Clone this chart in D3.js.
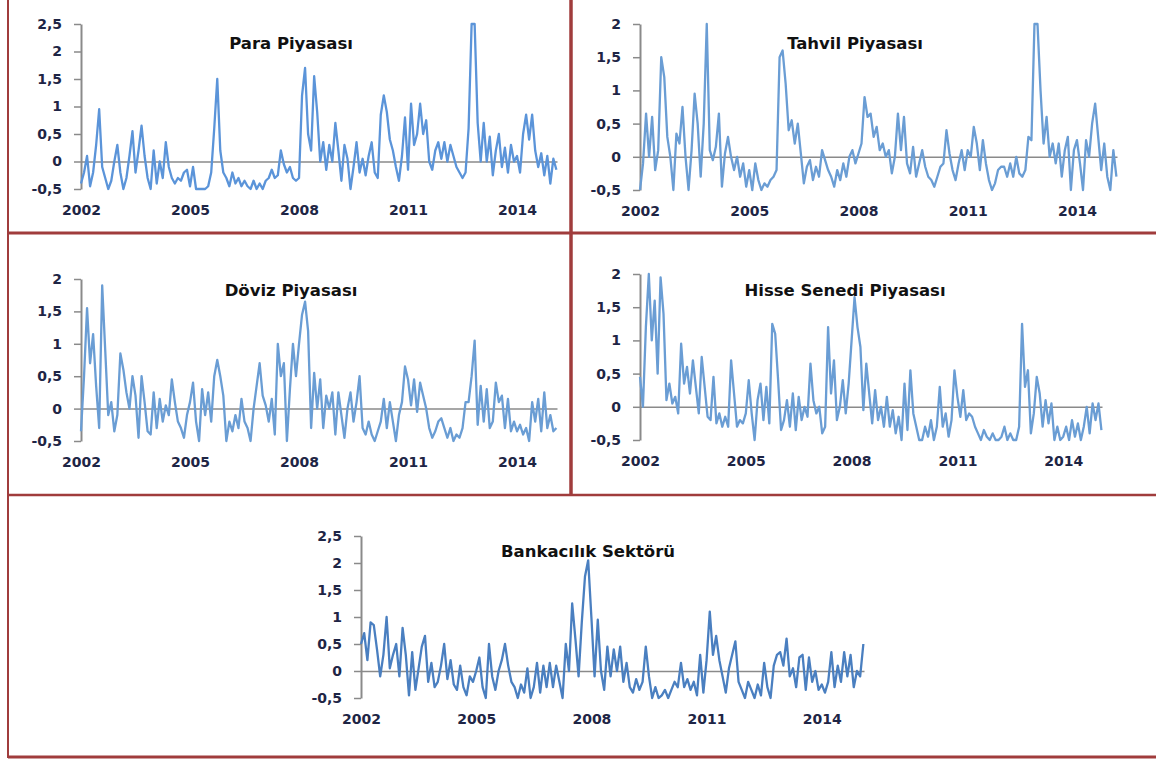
<!DOCTYPE html>
<html>
<head>
<meta charset="utf-8">
<script src="https://cdn.jsdelivr.net/npm/d3@7"></script>
<style>
  body { margin: 0; background: #fff; }
  svg text { font-family: "DejaVu Sans", Verdana, sans-serif; font-weight: bold; }
</style>
</head>
<body>
<div id="chart"></div>
<script>
var width = 1156;
var height = 760;

// monthly readings, Jan 2002 .. Feb 2015
var startYear = 2002;
var yearTicks = [2002, 2005, 2008, 2011, 2014];
var yTicksA = [-0.5, 0, 0.5, 1, 1.5, 2, 2.5];
var yTicksB = [-0.5, 0, 0.5, 1, 1.5, 2];
var titles = ["Para Piyasası", "Tahvil Piyasası", "Döviz Piyasası", "Hisse Senedi Piyasası", "Bankacılık Sektörü"];

var para = [
  -0.4, -0.2, 0.1, -0.45, -0.2, 0.3, 0.95, -0.1, -0.3, -0.5, -0.35, 0.0,
  0.3, -0.2, -0.5, -0.3, 0.1, 0.55, -0.2, 0.2, 0.65, 0.1, -0.3, -0.5,
  0.2, -0.4, 0.0, -0.3, 0.35, -0.1, -0.3, -0.4, -0.3, -0.35, -0.2, -0.15,
  -0.45, -0.1, -0.5, -0.5, -0.5, -0.5, -0.45, -0.2, 0.6, 1.5, 0.2, -0.2,
  -0.3, -0.45, -0.2, -0.4, -0.3, -0.45, -0.35, -0.45, -0.5, -0.35, -0.5, -0.4,
  -0.5, -0.35, -0.3, -0.15, -0.3, -0.25, 0.2, -0.05, -0.2, -0.1, -0.3, -0.35,
  -0.3, 1.2, 1.7, 0.5, 0.2, 1.55, 0.9, 0.0, 0.35, -0.15, 0.3, 0.0,
  0.7, 0.2, -0.35, 0.3, 0.05, -0.5, -0.1, 0.35, -0.2, 0.05, -0.25, 0.1,
  0.35, -0.2, -0.3, 0.85, 1.2, 0.9, 0.4, 0.2, -0.1, -0.35, 0.1, 0.8,
  -0.15, 1.05, 0.3, 0.5, 1.05, 0.5, 0.75, 0.0, -0.15, 0.2, 0.35, 0.05,
  0.35, 0.0, 0.3, 0.1, -0.1, -0.2, -0.3, -0.2, 0.6, 2.5, 2.5, 0.7,
  0.0, 0.7, 0.0, 0.45, -0.25, 0.2, 0.5, -0.1, 0.25, -0.2, 0.3, 0.0,
  0.1, -0.2, 0.5, 0.85, 0.4, 0.85, 0.2, -0.1, 0.15, -0.25, 0.1, -0.4,
  0.05, -0.15
];

var tahvil = [
  -0.5, -0.1, 0.65, 0.0, 0.6, -0.2, 0.1, 1.5, 1.2, 0.3, 0.0, -0.5,
  0.35, 0.2, 0.75, 0.0, -0.5, 0.1, 0.95, 0.5, -0.3, 0.5, 2.0, 0.1,
  -0.05, 0.15, 0.65, -0.45, 0.05, 0.3, 0.0, -0.2, 0.0, -0.3, -0.1, -0.45,
  -0.2, -0.5, -0.1, -0.35, -0.5, -0.4, -0.45, -0.35, -0.3, -0.2, 1.5, 1.6,
  1.1, 0.4, 0.55, 0.2, 0.5, 0.05, -0.4, -0.15, -0.05, -0.35, -0.15, -0.3,
  0.1, -0.05, -0.2, -0.3, -0.45, -0.2, -0.35, -0.1, -0.3, 0.0, 0.1, -0.1,
  0.05, 0.2, 0.9, 0.6, 0.65, 0.3, 0.45, 0.1, 0.2, 0.0, 0.1, -0.25,
  0.0, 0.65, 0.1, 0.6, -0.1, -0.25, 0.15, -0.3, -0.1, 0.1, -0.15, -0.3,
  -0.35, -0.45, -0.3, -0.15, -0.1, 0.4, 0.05, -0.2, -0.35, -0.1, 0.1, -0.2,
  0.1, 0.0, 0.45, 0.2, -0.2, 0.25, -0.1, -0.35, -0.5, -0.4, -0.2, -0.15,
  -0.15, -0.3, -0.1, -0.3, 0.0, -0.25, -0.3, -0.2, 0.3, 0.25, 2.0, 2.0,
  1.0, 0.2, 0.6, 0.0, 0.2, -0.1, 0.2, -0.3, 0.1, 0.3, -0.5, 0.1,
  0.25, -0.1, -0.5, 0.25, 0.0, 0.5, 0.8, 0.3, -0.2, 0.2, -0.3, -0.5,
  0.1, -0.3
];

var doviz = [
  -0.35, 0.5, 1.55, 0.7, 1.15, 0.35, -0.3, 1.9, 0.9, -0.1, 0.1, -0.35,
  -0.1, 0.85, 0.6, 0.25, 0.0, 0.5, 0.2, -0.45, 0.5, 0.1, -0.35, -0.4,
  0.25, -0.3, 0.15, -0.2, 0.05, -0.1, 0.45, 0.1, -0.2, -0.3, -0.45, -0.1,
  0.1, 0.4, -0.2, -0.5, 0.3, -0.1, 0.25, -0.2, 0.5, 0.75, 0.5, 0.2,
  -0.5, -0.2, -0.35, -0.1, -0.3, 0.15, -0.2, -0.3, -0.5, 0.0, 0.35, 0.7,
  0.2, 0.05, -0.2, 0.15, -0.4, 1.0, 0.5, 0.7, -0.5, 0.3, 1.0, 0.5,
  1.0, 1.45, 1.65, 1.2, -0.3, 0.55, 0.0, 0.45, -0.3, 0.2, 0.0, 0.25,
  -0.4, 0.25, -0.1, -0.45, 0.0, 0.25, -0.2, 0.1, 0.5, -0.3, -0.4, -0.2,
  -0.4, -0.5, -0.35, -0.2, 0.15, -0.3, 0.1, -0.2, -0.5, -0.1, 0.1, 0.65,
  0.45, 0.05, 0.45, -0.05, 0.4, 0.2, 0.0, -0.3, -0.45, -0.35, -0.2, -0.15,
  -0.3, -0.45, -0.3, -0.5, -0.4, -0.45, -0.3, 0.1, 0.1, 0.5, 1.05, -0.25,
  0.35, -0.2, 0.3, -0.3, -0.2, 0.4, 0.1, 0.2, -0.3, 0.15, -0.35, -0.2,
  -0.35, -0.25, -0.4, -0.3, -0.5, 0.1, -0.2, 0.15, -0.35, 0.25, -0.3, -0.1,
  -0.35, -0.3
];

var hisse = [
  0.45, 0.0, 1.2, 2.0, 1.0, 1.6, 0.5, 1.95, 1.4, 0.1, 0.35, 0.05,
  0.15, -0.1, 0.95, 0.35, 0.6, 0.2, 0.7, 0.3, -0.1, 0.75, 0.3, -0.15,
  -0.2, 0.45, -0.25, -0.1, -0.3, -0.15, -0.3, 0.7, 0.2, -0.3, -0.2, -0.25,
  -0.1, 0.4, -0.1, -0.5, 0.1, 0.35, -0.2, 0.3, -0.25, 1.25, 1.1, 0.4,
  -0.35, -0.2, 0.1, -0.3, 0.2, -0.35, 0.15, -0.2, 0.0, -0.15, 0.65, 0.1,
  -0.1, 0.0, -0.4, -0.3, 1.2, 0.2, 0.7, -0.2, 0.0, 0.4, -0.1, 0.35,
  1.0, 1.65, 1.2, 0.9, -0.05, 0.65, 0.2, -0.25, 0.25, -0.2, 0.0, -0.3,
  0.15, -0.3, -0.05, -0.4, -0.15, -0.5, 0.35, -0.35, 0.55, -0.1, -0.3, -0.5,
  -0.5, -0.3, -0.45, -0.2, -0.5, -0.3, 0.3, -0.3, -0.1, -0.45, -0.2, 0.55,
  0.15, -0.15, 0.25, -0.2, -0.1, -0.15, -0.3, -0.4, -0.5, -0.35, -0.45, -0.5,
  -0.4, -0.5, -0.5, -0.45, -0.3, -0.5, -0.4, -0.5, -0.5, -0.3, 1.25, 0.3,
  0.55, -0.4, -0.1, 0.45, 0.2, -0.3, 0.1, -0.25, 0.05, -0.5, -0.3, -0.5,
  -0.45, -0.3, -0.5, -0.2, -0.45, -0.25, -0.5, -0.3, 0.0, -0.4, 0.05, -0.2,
  0.05, -0.35
];

var banka = [
  0.5, 0.7, 0.2, 0.9, 0.85, 0.4, -0.1, 0.3, 1.0, 0.05, 0.3, 0.5,
  -0.1, 0.8, 0.3, -0.45, 0.35, -0.35, 0.05, 0.45, 0.65, -0.2, 0.15, -0.3,
  -0.2, 0.1, 0.5, -0.15, 0.2, -0.25, -0.35, 0.1, -0.3, -0.45, -0.1, -0.2,
  0.0, 0.25, -0.3, -0.5, 0.5, -0.1, -0.35, 0.0, 0.2, 0.5, 0.1, -0.2,
  -0.3, -0.5, -0.25, -0.4, 0.05, -0.5, -0.3, 0.15, -0.4, 0.1, -0.3, 0.15,
  -0.3, 0.1, -0.2, -0.5, 0.5, 0.0, 1.25, 0.6, -0.1, 0.9, 1.75, 2.05,
  1.0, -0.1, 0.95, 0.0, -0.35, 0.45, -0.1, 0.4, 0.0, 0.45, -0.2, 0.15,
  -0.3, -0.4, -0.15, -0.35, -0.2, 0.45, -0.1, -0.5, -0.3, -0.5, -0.45, -0.35,
  -0.5, -0.35, -0.2, -0.3, 0.15, -0.3, -0.15, -0.35, -0.2, -0.45, 0.3, -0.4,
  0.2, 1.1, 0.3, 0.65, 0.2, -0.1, -0.4, 0.05, 0.3, 0.55, -0.2, -0.35,
  -0.5, -0.2, -0.35, -0.5, -0.25, -0.45, 0.15, -0.3, -0.5, 0.1, 0.3, 0.35,
  0.1, 0.6, -0.1, 0.05, -0.3, 0.25, 0.3, -0.35, 0.25, -0.2, 0.0, -0.35,
  -0.25, -0.4, -0.2, 0.35, -0.3, 0.1, -0.2, 0.35, -0.1, 0.3, -0.3, 0.0,
  -0.1, 0.5
];

// panel layout (pixels on the page)
var panels = [
  {title: titles[0], values: para,   yMax: 2.5, ticks: yTicksA, x0: 81,  x1: 557,  yTop: 24,  yBot: 189, titleX: 291, titleY: 44,  color: "#5b94d9"},
  {title: titles[1], values: tahvil, yMax: 2,   ticks: yTicksB, x0: 640, x1: 1117, yTop: 24,  yBot: 190, titleX: 855, titleY: 44,  color: "#6a9dd4"},
  {title: titles[2], values: doviz,  yMax: 2,   ticks: yTicksB, x0: 81,  x1: 557,  yTop: 279, yBot: 441, titleX: 291, titleY: 291, color: "#6a9dd4"},
  {title: titles[3], values: hisse,  yMax: 2,   ticks: yTicksB, x0: 640, x1: 1102, yTop: 274, yBot: 440, titleX: 845, titleY: 291, color: "#6a9dd4"},
  {title: titles[4], values: banka,  yMax: 2.5, ticks: yTicksA, x0: 361, x1: 864,  yTop: 536, yBot: 698, titleX: 588, titleY: 552, color: "#4a7fc0"}
];

var fmt = d3.formatLocale({decimal: ",", thousands: ".", grouping: [3], currency: ["", ""], minus: "-"}).format("~g");

var svg = d3.select("#chart")
  .append("svg")
  .attr("width", width)
  .attr("height", height)
  .style("display", "block")
  .style("background", "#fff");

// frame lines
var frame = svg.append("g").attr("stroke", "#a03c3c").attr("fill", "none");
frame.append("line").attr("x1", 8).attr("x2", 8).attr("y1", 0).attr("y2", 758).attr("stroke-width", 2);
frame.append("line").attr("x1", 571).attr("x2", 571).attr("y1", 0).attr("y2", 495).attr("stroke-width", 3.5);
frame.append("line").attr("x1", 8).attr("x2", width).attr("y1", 233).attr("y2", 233).attr("stroke-width", 3);
frame.append("line").attr("x1", 8).attr("x2", width).attr("y1", 495).attr("y2", 495).attr("stroke-width", 2.5);
frame.append("line").attr("x1", 8).attr("x2", width).attr("y1", 757).attr("y2", 757).attr("stroke-width", 3);

panels.forEach(function(p) {
  var data = p.values.map(function(v, i) { return {t: startYear + i / 12, v: v}; });

  var x = d3.scaleLinear()
    .domain([startYear, 2015.1])
    .range([p.x0, p.x1]);

  var y = d3.scaleLinear()
    .domain([-0.5, p.yMax])
    .range([p.yBot, p.yTop]);

  var g = svg.append("g");

  // zero line
  g.append("g")
    .attr("transform", `translate(0, ${y(0)})`)
    .call(d3.axisBottom(x).tickValues([]).tickSizeOuter(0))
    .call(function(a) { a.select(".domain").attr("stroke", "#8a8a8a").attr("stroke-width", 1.5); });

  // year labels under the plot
  g.append("g")
    .attr("transform", `translate(0, ${p.yBot + 16})`)
    .call(d3.axisBottom(x).tickValues(yearTicks).tickFormat(d3.format("d")).tickSize(0).tickPadding(0))
    .call(function(a) {
      a.select(".domain").remove();
      a.selectAll("text")
        .attr("fill", "#1e2545")
        .style("font-size", "14px");
    });

  // y axis
  g.append("g")
    .attr("transform", `translate(${p.x0}, 0)`)
    .call(d3.axisLeft(y).tickValues(p.ticks).tickFormat(fmt).tickSize(7).tickSizeOuter(0).tickPadding(12))
    .call(function(a) {
      a.select(".domain").attr("stroke", "#8a8a8a").attr("stroke-width", 2);
      a.selectAll(".tick line").attr("stroke", "#8a8a8a").attr("stroke-width", 1.5);
      a.selectAll("text")
        .attr("fill", "#1e2545")
        .style("font-size", "14px");
    });

  var line = d3.line()
    .x(function(d) { return x(d.t); })
    .y(function(d) { return y(d.v); });

  g.append("path")
    .datum(data)
    .attr("fill", "none")
    .attr("stroke", p.color)
    .attr("stroke-width", 2.3)
    .attr("stroke-linejoin", "round")
    .attr("d", line);

  g.append("text")
    .attr("transform", `translate(${p.titleX}, ${p.titleY + 5}) scale(1.1, 1)`)
    .attr("text-anchor", "middle")
    .attr("fill", "#111")
    .style("font-size", "15px")
    .text(p.title);
});
</script>
</body>
</html>
